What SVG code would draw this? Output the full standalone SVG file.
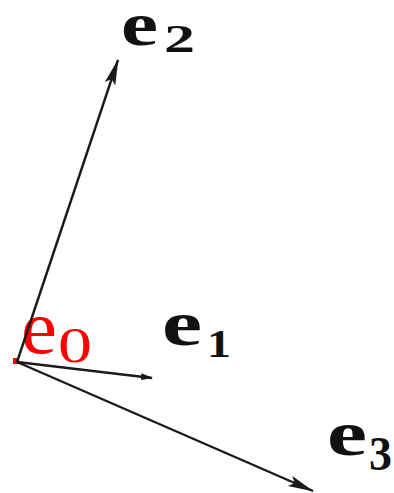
<svg xmlns="http://www.w3.org/2000/svg" width="394" height="493" viewBox="0 0 394 493">
<style>
.v{stroke:#1a1a1a;stroke-width:2.4;fill:none}
text{font-family:'Liberation Serif','Times New Roman',serif}
.lb{font-weight:bold;fill:#111}
.red{fill:#ff0000}
</style>
<defs>
<marker id="ah" viewBox="0 0 26 12" refX="25" refY="6" markerWidth="26" markerHeight="12" markerUnits="userSpaceOnUse" orient="auto">
<path d="M0,0.5 L26,6 L0,11.5 L5,6 z" fill="#1a1a1a"/>
</marker>
<marker id="dot" viewBox="0 0 12 8" refX="11" refY="4" markerWidth="12" markerHeight="8" markerUnits="userSpaceOnUse" orient="auto">
<path d="M0,0.5 L12,4 L0,7.5 z" fill="#1a1a1a"/>
</marker>
</defs>
<g id="e0">
<text class="red" x="21" y="353" font-size="76" textLength="36" lengthAdjust="spacingAndGlyphs">e</text>
<text class="red" x="58" y="362" font-size="51" textLength="34" lengthAdjust="spacingAndGlyphs">0</text>
</g>
<g id="origin">
<rect x="13" y="358" width="6" height="6" fill="#ff0000"/>
</g>
<g id="connectors">
<line class="v" x1="17" y1="362" x2="118" y2="60" marker-end="url(#ah)"/>
<line class="v" x1="17" y1="362" x2="152" y2="378" marker-end="url(#dot)"/>
<line class="v" x1="17" y1="362" x2="313" y2="491" marker-end="url(#ah)"/>
</g>
<g id="e1">
<text class="lb" x="162" y="345" font-size="64" textLength="40" lengthAdjust="spacingAndGlyphs">e</text>
<text class="lb" x="207" y="357" font-size="40" textLength="24" lengthAdjust="spacingAndGlyphs">1</text>
</g>
<g id="e2">
<text class="lb" x="121" y="45" font-size="62" textLength="37" lengthAdjust="spacingAndGlyphs">e</text>
<text class="lb" x="164" y="52" font-size="40" textLength="31" lengthAdjust="spacingAndGlyphs">2</text>
</g>
<g id="e3">
<text class="lb" x="327" y="455" font-size="64" textLength="40" lengthAdjust="spacingAndGlyphs">e</text>
<text class="lb" x="369" y="470" font-size="48" textLength="23" lengthAdjust="spacingAndGlyphs">3</text>
</g>
</svg>
